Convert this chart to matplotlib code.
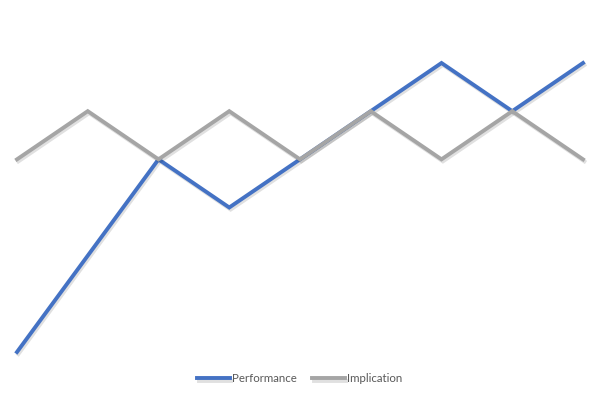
import matplotlib
matplotlib.use("Agg")
import matplotlib.pyplot as plt
import matplotlib.patheffects as pe

# Werte
periods = list(range(9))
performance = [-1, 1, 3, 2, 3, 4, 5, 4, 5]
implication = [3, 4, 3, 4, 3, 4, 3, 4, 3]

fig = plt.figure(figsize=(6, 4), dpi=100)
ax = fig.add_axes([17 / 600, 1 - 352 / 400, 566 / 600, 289 / 400])

shadow = [pe.SimpleLineShadow(offset=(1, -1.5), shadow_color="black", alpha=0.12), pe.Normal()]

ax.plot(periods, performance, color="#4472C4", lw=2.8, label="Performance",
        clip_on=False, solid_joinstyle="miter", path_effects=shadow)
ax.plot(periods, implication, color="#A5A5A5", lw=2.8, label="Implication",
        clip_on=False, solid_joinstyle="miter", path_effects=shadow)

ax.set_xlim(0, 8)
ax.set_ylim(-1, 5)
ax.axis("off")

leg = fig.legend(loc="center", bbox_to_anchor=(0.5, 1 - 379 / 400), ncol=2, frameon=False,
                 prop={"family": "Lato", "size": 8.3}, handlelength=2.8, handletextpad=0.25,
                 columnspacing=1.3, labelcolor="#595959")

fig.savefig("out.png", dpi=100)
